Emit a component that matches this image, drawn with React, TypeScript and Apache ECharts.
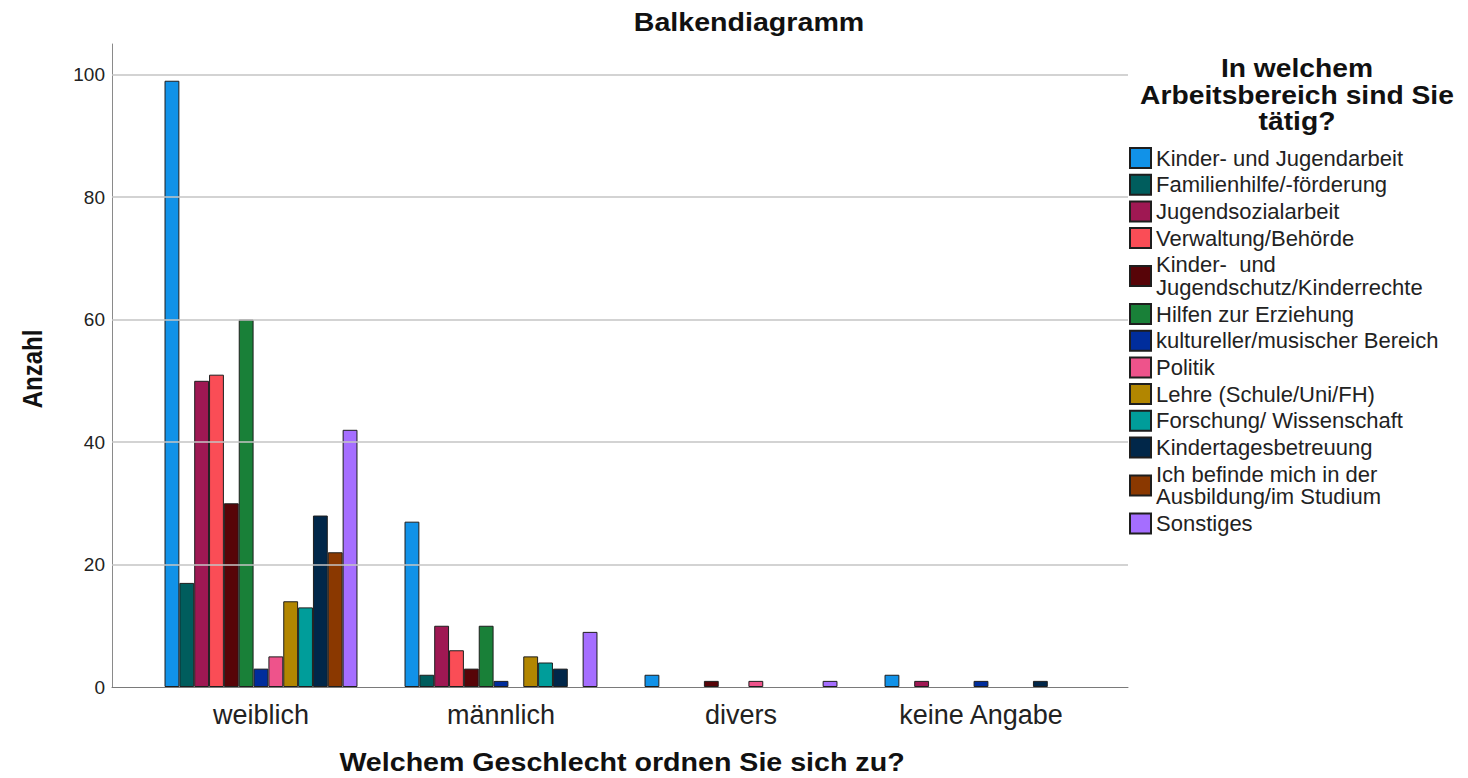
import React, { useEffect, useRef } from "react";
import * as echarts from "echarts";

const categories = ["weiblich", "männlich", "divers", "keine Angabe"];

const seriesNames = [
  "Kinder- und Jugendarbeit",
  "Familienhilfe/-förderung",
  "Jugendsozialarbeit",
  "Verwaltung/Behörde",
  "Kinder-  und\nJugendschutz/Kinderrechte",
  "Hilfen zur Erziehung",
  "kultureller/musischer Bereich",
  "Politik",
  "Lehre (Schule/Uni/FH)",
  "Forschung/ Wissenschaft",
  "Kindertagesbetreuung",
  "Ich befinde mich in der\nAusbildung/im Studium",
  "Sonstiges",
];

const kinderJugendarbeit = [99, 27, 2, 2];
const familienhilfe = [17, 2, 0, 0];
const jugendsozialarbeit = [50, 10, 0, 1];
const verwaltung = [51, 6, 0, 0];
const kinderschutz = [30, 3, 1, 0];
const hilfenErziehung = [60, 10, 0, 0];
const kulturell = [3, 1, 0, 1];
const politik = [5, 0, 1, 0];
const lehre = [14, 5, 0, 0];
const forschung = [13, 4, 0, 0];
const kindertages = [28, 3, 0, 1];
const ausbildung = [22, 0, 0, 0];
const sonstiges = [42, 9, 1, 0];

const seriesValues = [
  kinderJugendarbeit,
  familienhilfe,
  jugendsozialarbeit,
  verwaltung,
  kinderschutz,
  hilfenErziehung,
  kulturell,
  politik,
  lehre,
  forschung,
  kindertages,
  ausbildung,
  sonstiges,
];

const colors = [
  "#1192e8",
  "#005d5d",
  "#9f1853",
  "#fa4d56",
  "#570408",
  "#198038",
  "#002d9c",
  "#ee538b",
  "#b28600",
  "#009d9a",
  "#012749",
  "#8a3800",
  "#a56eff",
];

const yTicks = [20, 40, 60, 80, 100];
const legendTitleLines = ["In welchem", "Arbeitsbereich sind Sie", "tätig?"];

const FONT = "'Liberation Sans', Arial, sans-serif";

export default function App() {
  const ref = useRef<HTMLDivElement>(null);

  useEffect(() => {
    document.body.style.margin = "0";
    if (!ref.current) return;
    const chart = echarts.init(ref.current, null, { renderer: "svg" });

    const barSeries = seriesNames.map((name, i) => ({
      name,
      type: "bar",
      xAxisIndex: 1,
      yAxisIndex: 1,
      barGap: "0%",
      barCategoryGap: "19.6%",
      itemStyle: { color: colors[i], borderColor: "#1e1e1e", borderWidth: 1 },
      emphasis: { disabled: true },
      data: seriesValues[i].map((v) => (v === 0 ? null : v)),
    }));

    const option: any = {
      animation: false,
      textStyle: { fontFamily: FONT },
      grid: [
        { left: 112, right: 340, top: 44, bottom: 91, containLabel: false },
        { left: 141, right: 367, top: 44, bottom: 91, containLabel: false },
      ],
      xAxis: [
        {
          type: "category",
          gridIndex: 0,
          data: categories,
          axisLine: { show: true, lineStyle: { color: "#7a7a7a", width: 1 } },
          axisTick: { show: false },
          axisLabel: { show: false },
          splitLine: { show: false },
        },
        {
          type: "category",
          gridIndex: 1,
          data: categories,
          axisLine: { show: false },
          axisTick: { show: false },
          axisLabel: { fontSize: 27, color: "#222", margin: 14, fontFamily: FONT },
          splitLine: { show: false },
        },
      ],
      yAxis: [
        {
          type: "value",
          gridIndex: 0,
          min: 0,
          max: 105,
          interval: 20,
          axisLine: { show: true, lineStyle: { color: "#8a8a8a", width: 1 } },
          axisTick: { show: false },
          axisLabel: {
            fontSize: 19,
            color: "#222",
            margin: 7,
            fontFamily: FONT,
            showMaxLabel: false,
          },
          splitLine: { show: false },
        },
        {
          type: "value",
          gridIndex: 1,
          min: 0,
          max: 105,
          interval: 20,
          show: false,
          splitLine: { show: false },
        },
      ],
      legend: {
        data: seriesNames,
        orient: "vertical",
        left: 1129,
        top: 146.75,
        padding: 0,
        itemWidth: 21,
        itemHeight: 20,
        itemGap: 4.2,
        icon: "rect",
        selectedMode: false,
        textStyle: {
          fontSize: 22,
          lineHeight: 22.5,
          color: "#222",
          fontFamily: FONT,
        },
      },
      graphic: [
        {
          type: "text",
          x: 749,
          y: 22,
          scaleX: 1.1,
          style: {
            text: "Balkendiagramm",
            font: `bold 26px ${FONT}`,
            fill: "#111",
            align: "center",
            verticalAlign: "middle",
          },
        },
        {
          type: "text",
          x: 33,
          y: 369,
          rotation: Math.PI / 2,
          scaleY: 1.12,
          style: {
            text: "Anzahl",
            font: `bold 24px ${FONT}`,
            fill: "#111",
            align: "center",
            verticalAlign: "middle",
          },
        },
        {
          type: "text",
          x: 622,
          y: 762,
          scaleX: 1.1,
          style: {
            text: "Welchem Geschlecht ordnen Sie sich zu?",
            font: `bold 26px ${FONT}`,
            fill: "#111",
            align: "center",
            verticalAlign: "middle",
          },
        },
        ...legendTitleLines.map((line, i) => ({
          type: "text",
          x: 1297,
          y: 69 + i * 26.5,
          scaleX: 1.13,
          style: {
            text: line,
            font: `bold 25px ${FONT}`,
            fill: "#111",
            align: "center",
            verticalAlign: "middle",
          },
        })),
      ],
      series: [
        {
          name: "__grid",
          type: "line",
          xAxisIndex: 0,
          yAxisIndex: 0,
          z: 1,
          silent: true,
          data: categories.map(() => null),
          showSymbol: false,
          lineStyle: { opacity: 0 },
          markLine: {
            silent: true,
            symbol: "none",
            animation: false,
            label: { show: false },
            lineStyle: { color: "#c4c4c4", type: "solid", width: 1.5 },
            data: yTicks.map((v) => ({ yAxis: v })),
          },
        },
        ...barSeries,
      ],
    };

    chart.setOption(option);
    return () => chart.dispose();
  }, []);

  return <div ref={ref} style={{ width: 1468, height: 778 }} />;
}
